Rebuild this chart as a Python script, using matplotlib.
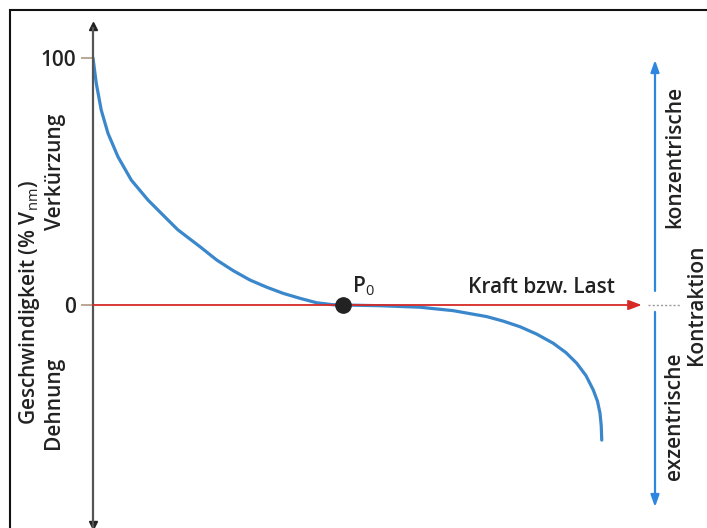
import matplotlib
matplotlib.use("Agg")
import matplotlib.pyplot as plt
from matplotlib.patches import Rectangle

plt.rcParams['font.family'] = ['Open Sans', 'DejaVu Sans']
plt.rcParams['mathtext.fontset'] = 'custom'
plt.rcParams['mathtext.rm'] = 'Open Sans'
plt.rcParams['mathtext.it'] = 'Open Sans'

# Kraft (% P0) / Geschwindigkeit (% Vmax), konzentrischer Ast
konz_kraft = [0, 1.3, 3.3, 6.0, 10.0, 15.3, 22.0, 30.0, 34.0, 42.8, 49.5,
              56.1, 62.8, 69.5, 76.1, 82.8, 89.5, 96.0, 100]
konz_v = [100, 89.8, 78.9, 69.5, 60.0, 50.6, 42.5, 34.4, 30.4, 23.6, 18.2,
          13.9, 10.1, 7.2, 4.7, 2.7, 0.9, 0.1, 0]

# exzentrischer Ast
exz_kraft = [100, 115, 130.8, 144.1, 157.5, 164.0, 170.8, 177.5, 184.1, 189.2,
             193.5, 197.2, 200.1, 201.8, 202.8, 203.3, 203.5]
exz_v = [0, -0.3, -0.9, -2.3, -4.7, -6.5, -8.8, -11.8, -15.5, -19.3,
         -23.6, -28.6, -34.4, -39.0, -43.8, -49.0, -54.7]

yticks = [0, 100]
ytick_labels = ['0', '100']

blau = '#3b87cc'
pfeilblau = '#2f86e0'
rot = '#d62a26'
fs = 15

fig = plt.figure(figsize=(7.07, 5.28), dpi=100)
ax = fig.add_axes([93 / 707, 0, 614 / 707, 1])
ax.set_xlim(0, 245.6)
ax.set_ylim(-90.3, 123.5)

for s in ['top', 'right', 'bottom']:
    ax.spines[s].set_visible(False)
ax.spines['left'].set_bounds(-92, 112)
ax.spines['left'].set_color('#555555')
ax.spines['left'].set_linewidth(1.6)
ax.plot([0], [113], marker='^', color='#222222', markersize=6, clip_on=False)
ax.plot([0], [-89], marker='v', color='#222222', markersize=6, clip_on=False)

ax.set_xticks([])
ax.set_yticks(yticks)
ax.set_yticklabels(ytick_labels, fontsize=fs, fontweight='semibold', color='#222222')
ax.tick_params(axis='y', length=9, width=1.2, color='#b09a80', pad=3)

# Kraftachse (rot)
ax.annotate('', xy=(219.5, 0), xytext=(0, 0),
            arrowprops=dict(arrowstyle='-|>,head_length=0.8,head_width=0.3',
                            color=rot, lw=1.3, shrinkA=0, shrinkB=0))

# Kurve
ax.plot(konz_kraft, konz_v, color=blau, lw=2.3,
        solid_capstyle='round', solid_joinstyle='round')
ax.plot(exz_kraft, exz_v, color=blau, lw=2.3,
        solid_capstyle='round', solid_joinstyle='round')
ax.plot([100], [0], 'o', color='#222222', markersize=11, zorder=5)

# Kontraktionspfeile
ax.annotate('', xy=(224.8, 99.2), xytext=(224.8, 5.7),
            arrowprops=dict(arrowstyle='-|>,head_length=0.7,head_width=0.25',
                            color=pfeilblau, lw=1.6, shrinkA=0, shrinkB=0))
ax.annotate('', xy=(224.8, -81.8), xytext=(224.8, -2.8),
            arrowprops=dict(arrowstyle='-|>,head_length=0.7,head_width=0.25',
                            color=pfeilblau, lw=1.6, shrinkA=0, shrinkB=0))
ax.plot([222, 234.8], [0, 0], color='#999999', lw=1, ls=(0, (1.5, 1.5)), clip_on=False)

txt = dict(fontsize=fs, fontweight='semibold', color='#222222', clip_on=False)
ax.text(103.6, 4.9, r'P$_\mathrm{0}$', ha='left', va='baseline', **txt)
ax.text(208.8, 4.9, 'Kraft bzw. Last', ha='right', va='baseline', **txt)
ax.text(-25.2, 1.2, r'Geschwindigkeit (% V$_\mathrm{nm}$)', rotation=90,
        ha='center', va='center', **txt)
ax.text(-15.2, 53.8, 'Verkürzung', rotation=90, ha='center', va='center', **txt)
ax.text(-16.0, -39.7, 'Dehnung', rotation=90, ha='center', va='center', **txt)
ax.text(232.6, 60.0, 'konzentrische', rotation=90, ha='center', va='center', **txt)
ax.text(232.6, -45.0, 'exzentrische', rotation=90, ha='center', va='center', **txt)
ax.text(241.2, 0, 'Kontraktion', rotation=90, ha='center', va='center', **txt)

# Rahmen
fig.patches.append(Rectangle((9.5 / 707, -0.1), 1.2, 518.5 / 528 + 0.1,
                             transform=fig.transFigure, fill=False,
                             edgecolor='#111111', lw=1.5, zorder=10))

fig.savefig('out.png', dpi=100)
